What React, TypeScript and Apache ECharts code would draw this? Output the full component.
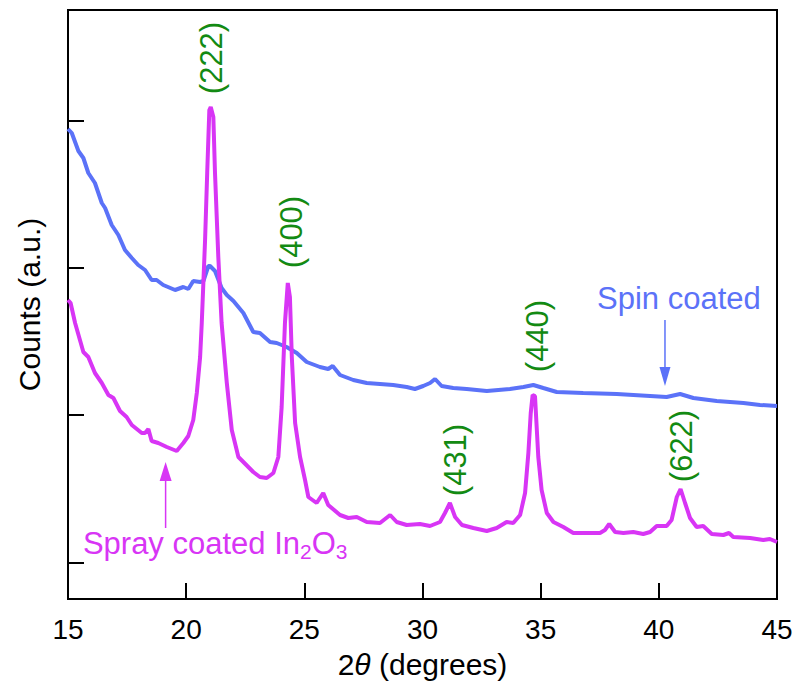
import React, { useEffect, useRef } from "react";
import * as echarts from "echarts";

// 2θ in degrees, intensity in arbitrary units
const spinDeg = [15.0, 15.16, 15.44, 15.65, 15.86, 16.14, 16.43, 16.57, 16.85, 17.13, 17.41, 17.7, 17.97, 18.26, 18.54, 18.75, 19.03, 19.53, 19.88, 20.09, 20.3, 20.59, 20.73, 20.94, 21.01, 21.22, 21.5, 21.72, 22.0, 22.42, 22.84, 23.12, 23.55, 23.83, 24.25, 24.68, 25.1, 25.66, 26.01, 26.2, 26.51, 27.07, 27.64, 28.2, 28.76, 29.33, 29.68, 30.03, 30.32, 30.53, 30.81, 31.3, 31.87, 32.72, 33.7, 34.27, 34.69, 35.11, 35.68, 36.8, 38.22, 39.63, 40.33, 40.9, 41.46, 42.45, 43.58, 44.28, 45.0];
const spinVal = [470, 466, 448, 441, 426, 416, 396, 391, 374, 364, 349, 341, 334, 329, 319, 319, 314, 309, 312, 310, 318, 317, 318, 333, 333, 328, 311, 304, 298, 286, 267, 266, 257, 256, 252, 246, 237, 232, 230, 233, 224, 219, 216, 215, 214, 212, 210, 213, 216, 220, 213, 211, 210, 208, 210, 212, 214, 211, 207, 206, 205, 203, 202, 205, 201, 198, 196, 194, 193];

const sprayDeg = [15.0, 15.11, 15.3, 15.65, 15.86, 16.14, 16.43, 16.71, 16.92, 17.2, 17.48, 17.7, 18.12, 18.26, 18.4, 18.54, 18.82, 19.18, 19.6, 19.88, 20.09, 20.3, 20.45, 20.59, 20.66, 20.8, 20.89, 20.98, 21.04, 21.15, 21.22, 21.36, 21.5, 21.72, 21.93, 22.21, 22.63, 22.84, 23.12, 23.41, 23.69, 23.9, 24.04, 24.18, 24.3, 24.39, 24.47, 24.61, 24.82, 25.03, 25.17, 25.52, 25.8, 26.01, 26.51, 26.86, 27.22, 27.64, 28.2, 28.63, 28.91, 29.33, 29.89, 30.32, 30.74, 30.95, 31.16, 31.38, 31.67, 32.15, 32.72, 33.14, 33.56, 33.84, 34.13, 34.34, 34.48, 34.58, 34.66, 34.76, 34.9, 35.04, 35.26, 35.54, 35.96, 36.38, 36.95, 37.51, 37.72, 37.9, 38.15, 38.5, 38.92, 39.34, 39.63, 39.91, 40.33, 40.54, 40.76, 40.92, 41.11, 41.32, 41.6, 41.88, 42.24, 42.73, 42.97, 43.15, 43.86, 44.42, 44.7, 45.0];
const sprayVal = [299, 296, 276, 247, 242, 226, 216, 204, 201, 188, 182, 174, 166, 166, 170, 158, 156, 152, 148, 156, 163, 179, 206, 242, 276, 359, 426, 489, 492, 482, 426, 342, 276, 216, 169, 142, 132, 127, 122, 121, 126, 142, 192, 276, 316, 302, 242, 176, 142, 119, 102, 96, 106, 94, 84, 81, 82, 77, 76, 84, 77, 74, 75, 73, 77, 86, 96, 82, 74, 71, 68, 71, 77, 76, 84, 106, 146, 186, 204, 203, 142, 109, 86, 77, 72, 66, 66, 66, 69, 75, 67, 66, 67, 65, 67, 73, 73, 79, 102, 110, 96, 81, 72, 73, 65, 64, 66, 62, 61, 59, 60, 57];

const xTicks = [15, 20, 25, 30, 35, 40, 45];
const yTickValues = [36, 184, 331, 478];

const peakLabels = ["(222)", "(400)", "(440)", "(431)", "(622)"];
const peakLabelDeg = [21.09, 24.44, 34.85, 31.38, 40.94];
const peakLabelVal = [541, 367, 263, 139, 153];

const SPIN_COLOR = "#5B72F8";
const SPRAY_COLOR = "#D835F5";
const GREEN = "#138A13";
const FONT = "'Liberation Sans', Arial, Helvetica, sans-serif";

export default function App() {
  const ref = useRef<HTMLDivElement>(null);
  useEffect(() => {
    if (!ref.current) return;
    const chart = echarts.init(ref.current, null, { renderer: "svg" });
    const spin = spinDeg.map((d, i) => [d, spinVal[i]]);
    const spray = sprayDeg.map((d, i) => [d, sprayVal[i]]);
    chart.setOption({
      animation: false,
      textStyle: { fontFamily: FONT },
      grid: {
        left: 68,
        right: 19,
        top: 10,
        bottom: 96,
        show: true,
        borderColor: "#000",
        borderWidth: 2,
        backgroundColor: "transparent",
      },
      xAxis: {
        type: "value",
        min: xTicks[0],
        max: xTicks[xTicks.length - 1],
        interval: 5,
        name: "2{i|θ} (degrees)",
        nameLocation: "middle",
        nameGap: 50,
        nameTextStyle: {
          fontSize: 30,
          color: "#000",
          fontFamily: FONT,
          rich: { i: { fontStyle: "italic", fontSize: 30, fontFamily: FONT, color: "#000" } },
        },
        axisLine: { show: true, lineStyle: { color: "#000", width: 2 } },
        axisTick: { show: true, inside: true, length: 16, lineStyle: { color: "#000", width: 2 } },
        axisLabel: { fontSize: 28, color: "#000", margin: 16, fontFamily: FONT },
        splitLine: { show: false },
      },
      yAxis: {
        type: "value",
        min: 0,
        max: 589,
        name: "Counts (a.u.)",
        nameLocation: "middle",
        nameGap: 24,
        nameTextStyle: { fontSize: 30, color: "#000", fontFamily: FONT },
        axisLine: { show: true, lineStyle: { color: "#000", width: 2 } },
        axisTick: {
          show: true,
          inside: true,
          length: 16,
          customValues: yTickValues,
          lineStyle: { color: "#000", width: 2 },
        },
        axisLabel: { show: false },
        splitLine: { show: false },
      },
      series: [
        {
          type: "line",
          name: "Spin coated",
          data: spin,
          showSymbol: false,
          symbol: "none",
          lineStyle: { color: SPIN_COLOR, width: 4 },
          z: 2,
        },
        {
          type: "line",
          name: "Spray coated",
          data: spray,
          showSymbol: false,
          symbol: "none",
          lineStyle: { color: SPRAY_COLOR, width: 4 },
          z: 3,
        },
      ],
    });

    const px = (d: number, v: number) => chart.convertToPixel({ gridIndex: 0 }, [d, v]) as number[];
    const graphics: any[] = [];
    peakLabels.forEach((t, i) => {
      const p = px(peakLabelDeg[i], peakLabelVal[i]);
      graphics.push({
        type: "text",
        x: p[0],
        y: p[1],
        rotation: Math.PI / 2,
        style: { text: t, fontSize: 31, fill: GREEN, fontFamily: FONT, align: "center", verticalAlign: "middle" },
        z: 10,
      });
    });
    // Spin coated label + arrow
    const sl = px(40.85, 301);
    graphics.push({
      type: "text",
      x: sl[0],
      y: sl[1],
      style: { text: "Spin coated", fontSize: 31, fill: SPIN_COLOR, fontFamily: FONT, align: "center", verticalAlign: "middle" },
      z: 10,
    });
    const a1s = px(40.26, 279);
    const a1e = px(40.26, 213);
    graphics.push({
      type: "line",
      shape: { x1: a1s[0], y1: a1s[1], x2: a1e[0], y2: a1e[1] - 14 },
      style: { stroke: SPIN_COLOR, lineWidth: 1.5 },
      z: 10,
    });
    graphics.push({
      type: "polygon",
      shape: { points: [[a1e[0] - 5.5, a1e[1] - 19], [a1e[0] + 5.5, a1e[1] - 19], [a1e[0], a1e[1]]] },
      style: { fill: SPIN_COLOR },
      z: 10,
    });
    // Spray coated label + arrow
    const a2s = px(19.13, 71);
    const a2e = px(19.13, 137);
    graphics.push({
      type: "line",
      shape: { x1: a2s[0], y1: a2s[1], x2: a2e[0], y2: a2e[1] + 14 },
      style: { stroke: SPRAY_COLOR, lineWidth: 1.5 },
      z: 10,
    });
    graphics.push({
      type: "polygon",
      shape: { points: [[a2e[0] - 6, a2e[1] + 19], [a2e[0] + 6, a2e[1] + 19], [a2e[0], a2e[1]]] },
      style: { fill: SPRAY_COLOR },
      z: 10,
    });
    const tl = px(15.63, 56);
    graphics.push({
      type: "text",
      x: tl[0],
      y: tl[1],
      style: {
        text: "{a|Spray coated In}{s|2}{a|O}{s|3}",
        fill: SPRAY_COLOR,
        fontFamily: FONT,
        align: "left",
        verticalAlign: "middle",
        rich: {
          a: { fontSize: 31, lineHeight: 38, fill: SPRAY_COLOR, fontFamily: FONT },
          s: { fontSize: 21, lineHeight: 21, verticalAlign: "bottom", fill: SPRAY_COLOR, fontFamily: FONT },
        },
      },
      z: 10,
    });
    chart.setOption({ graphic: graphics });

    return () => chart.dispose();
  }, []);
  return <div ref={ref} style={{ position: "absolute", left: 0, top: 0, width: 796, height: 695 }} />;
}
